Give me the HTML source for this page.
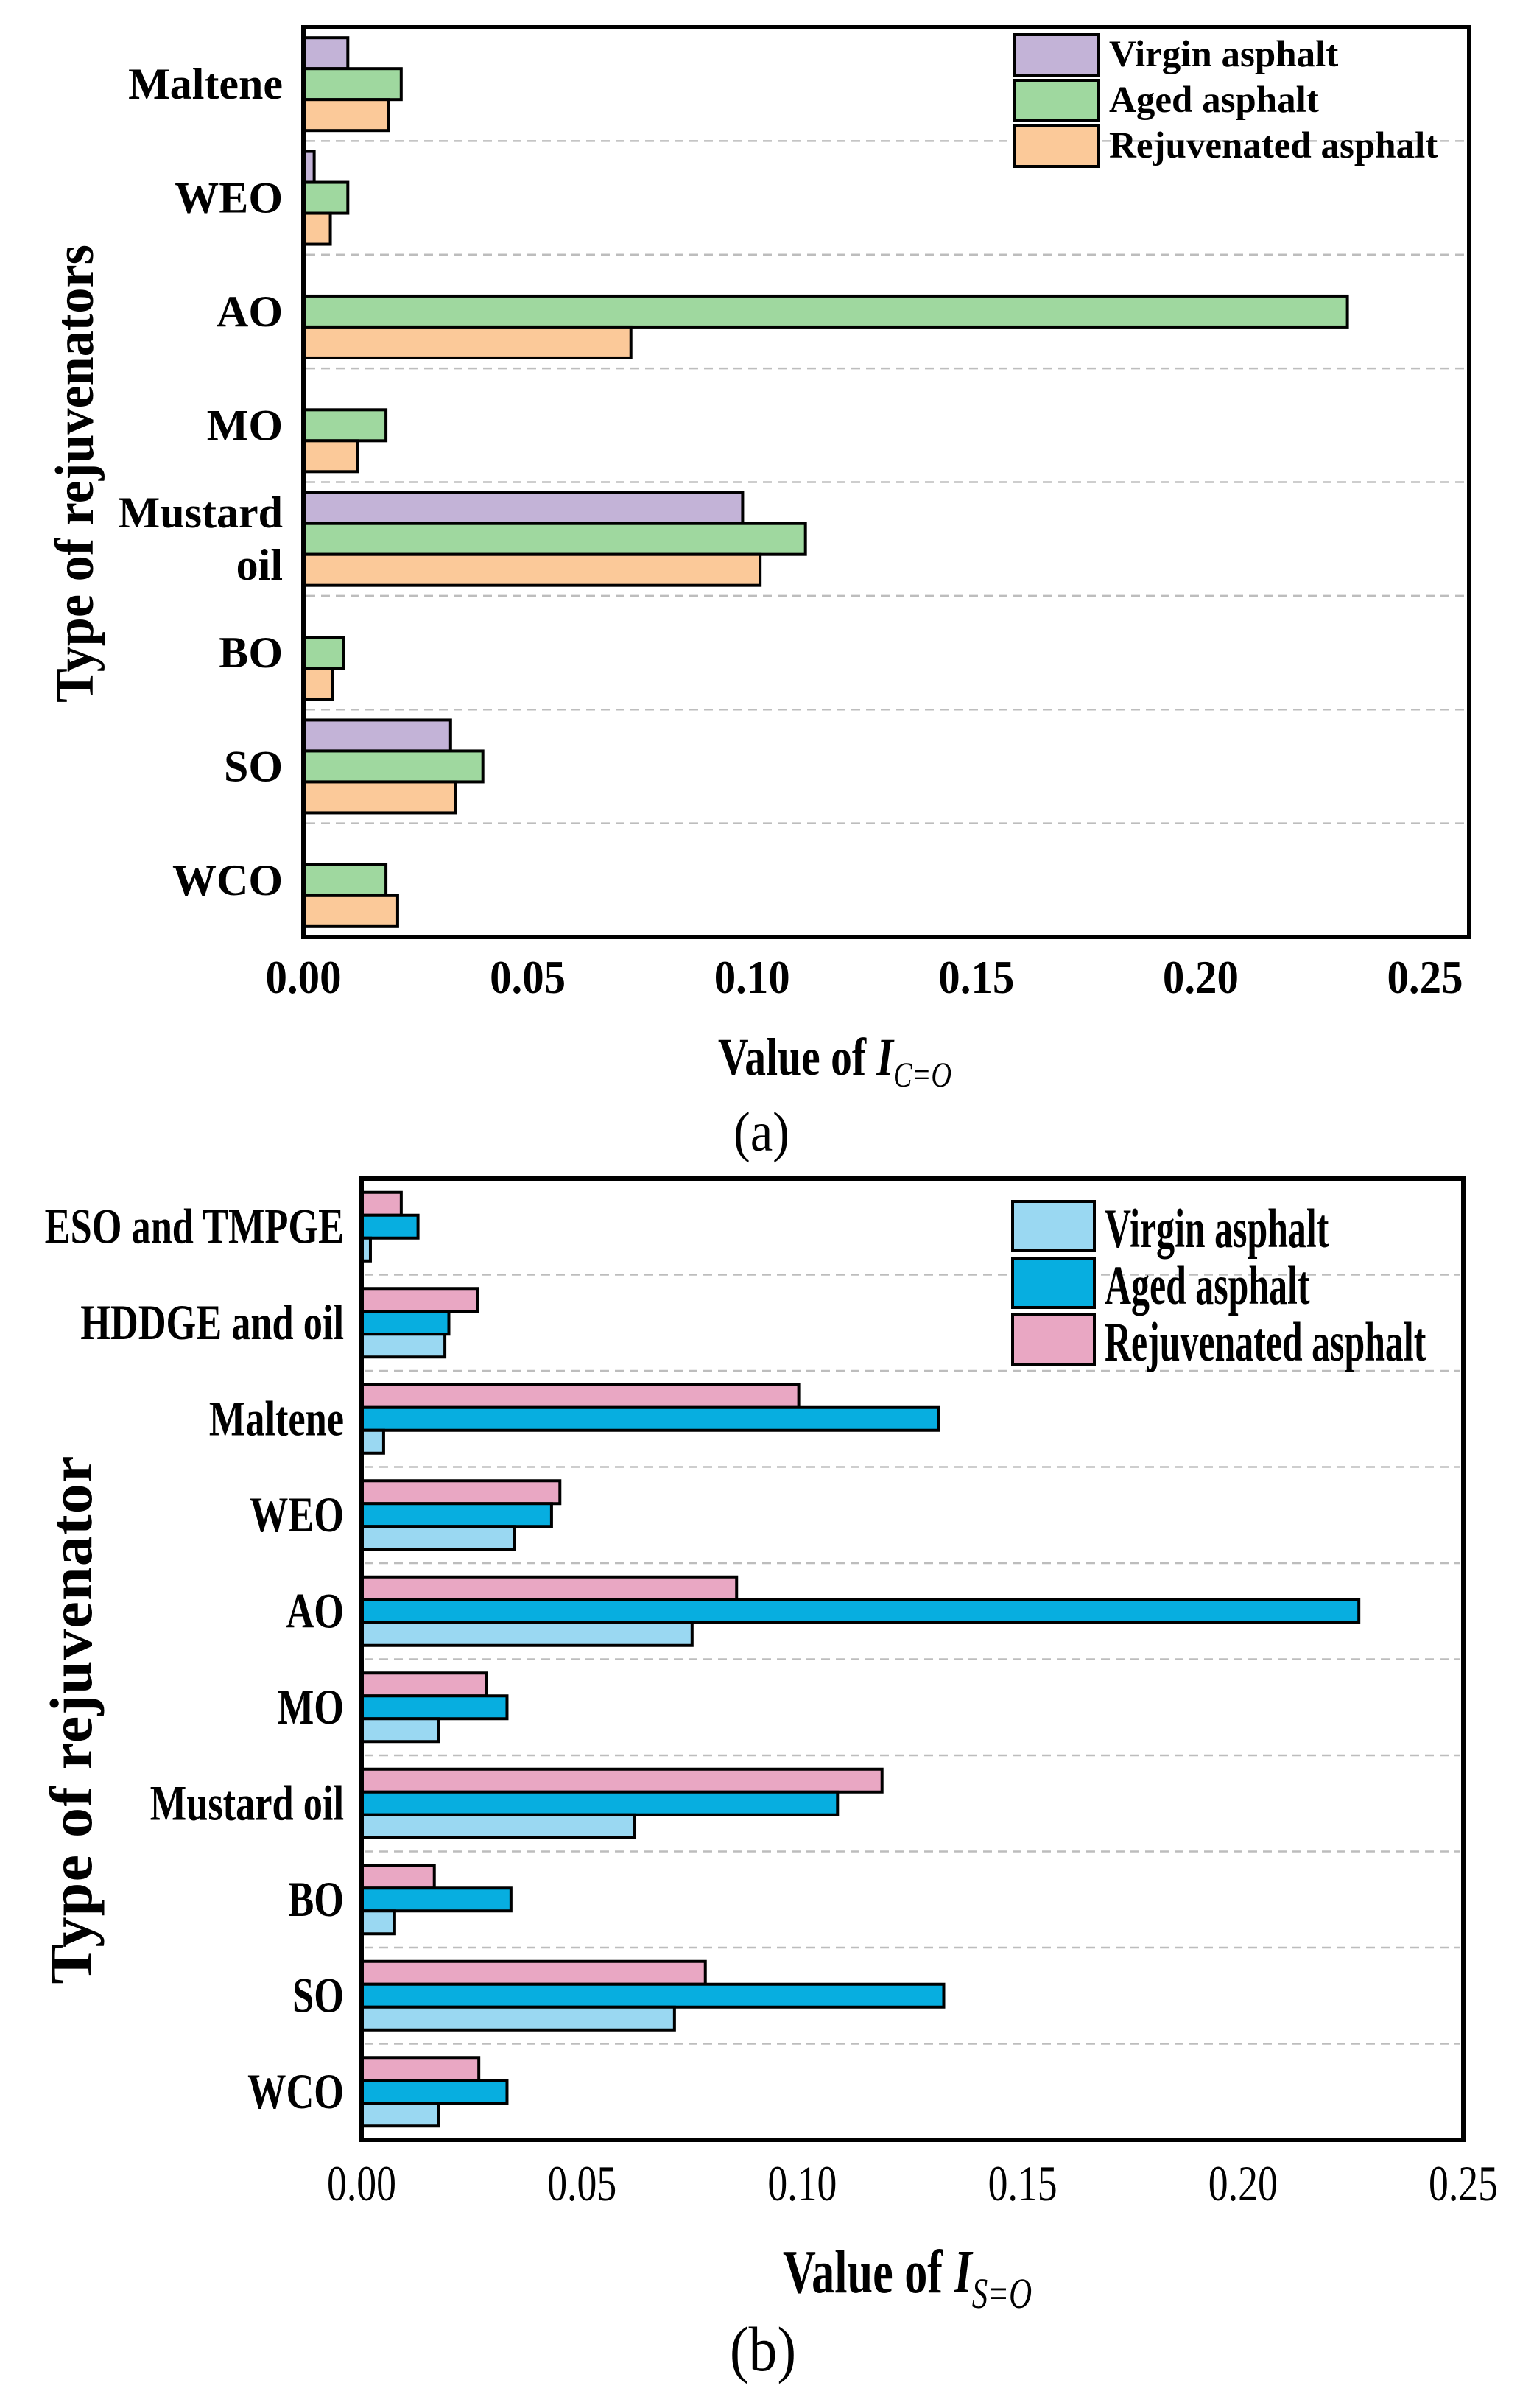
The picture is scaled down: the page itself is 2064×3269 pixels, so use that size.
<!DOCTYPE html>
<html><head><meta charset="utf-8"><style>
html,body{margin:0;padding:0;background:#fff;}
svg{display:block;}
text{font-family:"Liberation Serif","Times New Roman",serif;fill:#000;}
</style></head><body>
<svg id="fig" width="2064" height="3269" viewBox="0 0 2064 3269" xmlns="http://www.w3.org/2000/svg">
<g id="chartA"></g>
<g id="chartB"></g>
</svg>
<script>
// ---- Chart (a) data: I_C=O ----
const catsA = ["Maltene","WEO","AO","MO","Mustard oil","BO","SO","WCO"];
const virginA = [0.0099,0.0024,0,0,0.0979,0,0.0328,0];
const agedA = [0.0218,0.0099,0.2327,0.0184,0.1119,0.0089,0.0400,0.0184];
const rejA = [0.0190,0.0060,0.0730,0.0121,0.1018,0.0065,0.0339,0.0210];
const ticksA = [0,0.05,0.10,0.15,0.20,0.25];
const tickLabelsA = ["0.00","0.05","0.10","0.15","0.20","0.25"];
// ---- Chart (b) data: I_S=O ----
const catsB = ["ESO and TMPGE","HDDGE and oil","Maltene","WEO","AO","MO","Mustard oil","BO","SO","WCO"];
const rejB = [0.0090,0.0264,0.0992,0.0450,0.0851,0.0284,0.1181,0.0165,0.0780,0.0266];
const agedB = [0.0128,0.0198,0.1310,0.0431,0.2263,0.0330,0.1080,0.0339,0.1321,0.0330];
const virginB = [0.0020,0.0189,0.0050,0.0347,0.0750,0.0174,0.0620,0.0075,0.0710,0.0174];
const ticksB = [0,0.05,0.10,0.15,0.20,0.25];
const tickLabelsB = ["0.00","0.05","0.10","0.15","0.20","0.25"];

const NS="http://www.w3.org/2000/svg";
function mk(parent,tag,attrs,txt){const e=document.createElementNS(NS,tag);for(const k in attrs)e.setAttribute(k,attrs[k]);if(txt!==undefined)e.textContent=txt;parent.appendChild(e);return e;}

function draw(g,cfg){
  const xs=v=>cfg.x0+v*cfg.unit;
  const slot=(cfg.y1-cfg.y0)/cfg.cats.length;
  const ys=i=>cfg.y0+i*slot;
  for(let i=1;i<cfg.cats.length;i++){
    const l=mk(g,'line',{x1:cfg.x0+4,x2:cfg.xr-4,y1:ys(i),y2:ys(i),stroke:'#bdbdbd','stroke-width':2.5,'stroke-dasharray':'12 8'});
    
    
  }
  const m=(slot-3*cfg.bh)/2;
  cfg.cats.forEach((c,i)=>{
    cfg.series.forEach((s,k)=>{
      const v=s.vals[i];
      if(v<=0) return;
      const r=mk(g,'rect',{x:xs(0),y:ys(i)+m+k*cfg.bh,width:xs(v)-xs(0),height:cfg.bh,fill:s.color,stroke:'#000','stroke-width':4});
      
      
    });
    const lines=cfg.split&&c==="Mustard oil"?["Mustard","oil"]:[c];
    const cy=ys(i)+slot/2;
    lines.forEach((ln,j)=>{
      const yy=cy+cfg.labOff+(j-(lines.length-1)/2)*cfg.lineGap;
      const t=mk(g,'text',{transform:`translate(${cfg.labX},${yy}) scale(${cfg.labSx},1)`,'text-anchor':'end','font-size':cfg.labFs,'font-weight':'bold'},ln);
      
      
    });
  });
  const f=mk(g,'rect',{x:cfg.x0,y:cfg.y0,width:cfg.xr-cfg.x0,height:cfg.y1-cfg.y0,fill:'none',stroke:'#000','stroke-width':6});
  
  
  cfg.ticks.forEach((v,i)=>{
    const t=mk(g,'text',{transform:`translate(${xs(v)},${cfg.tickY}) scale(${cfg.tickSx},1)`,'text-anchor':'middle','font-size':cfg.tickFs,'font-weight':cfg.tickW},cfg.tickLabels[i]);
    
    
  });
  cfg.legOrder.forEach((k,j)=>{
    const s=cfg.series[k];
    const b=cfg.leg;
    const r=mk(g,'rect',{x:b.x,y:b.y+j*b.step,width:b.w,height:b.h,fill:s.color,stroke:'#000','stroke-width':4});
    
    
    const t=mk(g,'text',{transform:`translate(${b.tx},${b.y+j*b.step+b.bo}) scale(${b.sx},1)`,'font-size':b.fs,'font-weight':'bold'},s.name);
    
    
  });
}

const gA=document.getElementById('chartA');
draw(gA,{cats:catsA,x0:412,xr:1995,y0:37,y1:1272,unit:6092,bh:42,
  series:[{key:'virgin',name:'Virgin asphalt',vals:virginA,color:'#c3b3d7'},
          {key:'aged',name:'Aged asphalt',vals:agedA,color:'#9fd89f'},
          {key:'rejuvenated',name:'Rejuvenated asphalt',vals:rejA,color:'#fbc999'}],
  split:true,labX:384,labSx:1,labFs:60,labOff:20,lineGap:71,
  ticks:ticksA,tickLabels:tickLabelsA,tickY:1348,tickSx:0.92,tickFs:64,tickW:'bold',
  legOrder:[0,1,2],leg:{x:1377,y:47,w:115,h:55,step:62,tx:1506,bo:43,fs:51,sx:1}});

const gB=document.getElementById('chartB');
draw(gB,{cats:catsB,x0:491,xr:1987,y0:1600,y1:2905,unit:5984,bh:31,
  series:[{key:'rejuvenated',name:'Rejuvenated asphalt',vals:rejB,color:'#e9a7c3'},
          {key:'aged',name:'Aged asphalt',vals:agedB,color:'#07aee0'},
          {key:'virgin',name:'Virgin asphalt',vals:virginB,color:'#9ad8f2'}],
  split:false,labX:467,labSx:0.77,labFs:68,labOff:22,lineGap:0,
  ticks:ticksB,tickLabels:tickLabelsB,tickY:2987,tickSx:0.79,tickFs:68,tickW:'normal',
  legOrder:[2,1,0],leg:{x:1375,y:1631,w:111,h:67,step:77,tx:1500,bo:62,fs:75,sx:0.665}});

function title(g,x,y,sx,fs,main,sub,subFs,subDy,name){
  const t=mk(g,'text',{transform:`translate(${x},${y}) scale(${sx},1)`,'font-size':fs,'font-weight':'bold'});
  
  
  mk(t,'tspan',{},main);
  mk(t,'tspan',{'font-style':'italic'},'I');
  mk(t,'tspan',{'font-style':'italic','font-weight':'normal','font-size':subFs,dy:subDy},sub);
}
title(gA,975,1459,0.8,72,'Value of ','C=O',48,16,'x-axis-title-a');
title(gB,1063,3112,0.74,84,'Value of ','S=O',58,21,'x-axis-title-b');

let t=mk(gA,'text',{transform:'translate(1034,1562) scale(0.9,1)','text-anchor':'middle','font-size':76,'font-weight':'normal'},'(a)');


t=mk(gB,'text',{transform:'translate(1036,3218) scale(0.9,1)','text-anchor':'middle','font-size':86,'font-weight':'normal'},'(b)');



t=mk(gA,'text',{transform:'translate(126,643) rotate(-90)','text-anchor':'middle','font-size':74,'font-weight':'bold',textLength:622,lengthAdjust:'spacingAndGlyphs'},'Type of rejuvenators');


t=mk(gB,'text',{transform:'translate(124,2328) rotate(-90)','text-anchor':'middle','font-size':82,'font-weight':'bold','letter-spacing':14,textLength:731,lengthAdjust:'spacing'},'Type of rejuvenator');


</script>
</body></html>
